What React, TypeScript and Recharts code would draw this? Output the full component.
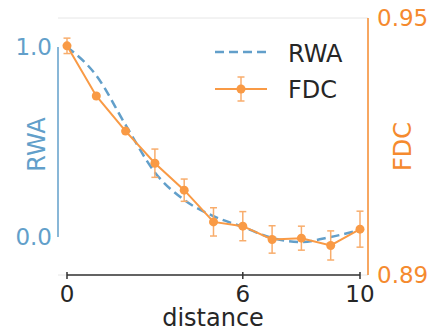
import React from "react";
import {
  CartesianGrid,
  ErrorBar,
  Legend,
  Line,
  LineChart,
  ReferenceLine,
  XAxis,
  YAxis,
} from "recharts";

const distances = [0, 1, 2, 3, 4, 5, 6, 7, 8, 9, 10];
const rwa = [1.0, 0.85, 0.59, 0.34, 0.195, 0.11, 0.053, -0.005, -0.026, 0.0, 0.037];
const fdc = [0.9435, 0.9318, 0.9236, 0.9161, 0.9098, 0.9024, 0.9014, 0.8983, 0.8986, 0.8969, 0.9007];
const fdcErr = [0.0018, 0.0005, 0.0005, 0.0033, 0.0026, 0.0033, 0.0034, 0.0032, 0.0028, 0.0034, 0.0042];
const xTicks = [0, 6, 10];
const rwaTicks = [0, 1];
const fdcTicks = [0.89, 0.95];

const data = distances.map((d, i) => ({ d, rwa: rwa[i], fdc: fdc[i], fdcErr: fdcErr[i] }));

const FONT = "DejaVu Sans";
const BLUE = "#629fca";
const ORANGE = "#f58a2e";
const ORANGE_LINE = "#f99a45";
const ORANGE_ERR = "#f8ad6c";
const DARK = "#262626";

const XTick = (props: any) => {
  const { x, y, payload } = props;
  return (
    <g>
      <line x1={x} x2={x} y1={y - 3} y2={y + 4} stroke="#333" strokeWidth={1.5} />
      <text x={x} y={y + 27} textAnchor="middle" fontSize={23} fill={DARK} fontFamily={FONT}>
        {payload.value}
      </text>
    </g>
  );
};

const LegendBox = () => (
  <svg width={150} height={85} style={{ display: "block" }}>
    <line x1={5} x2={57} y1={22} y2={22} stroke={BLUE} strokeWidth={2.5} strokeDasharray="9 5" />
    <text x={78} y={32} fontSize={24} fill={DARK} fontFamily={FONT}>RWA</text>
    <line x1={5} x2={57} y1={59} y2={59} stroke={ORANGE_LINE} strokeWidth={2} />
    <line x1={31} x2={31} y1={47} y2={71} stroke={ORANGE_ERR} strokeWidth={1.5} />
    <line x1={27.5} x2={34.5} y1={47} y2={47} stroke={ORANGE_ERR} strokeWidth={1.5} />
    <line x1={27.5} x2={34.5} y1={71} y2={71} stroke={ORANGE_ERR} strokeWidth={1.5} />
    <circle cx={31} cy={59} r={4.5} fill={ORANGE_LINE} />
    <text x={78} y={68} fontSize={24} fill={DARK} fontFamily={FONT}>FDC</text>
  </svg>
);

export default function App() {
  return (
    <div style={{ position: "absolute", left: 0, top: 0, background: "#fff" }}>
      <LineChart
        width={431}
        height={328}
        data={data}
        margin={{ top: 18, right: 0, bottom: 0, left: 0 }}
        style={{ fontFamily: FONT }}
      >
        <CartesianGrid horizontalPoints={[18, 275]} vertical={false} stroke="#e6e6e6" />
        <XAxis
          dataKey="d"
          type="number"
          domain={[-0.307, 10.273]}
          allowDataOverflow
          ticks={xTicks}
          axisLine={false}
          tickLine={false}
          tickSize={0}
          tickMargin={0}
          tick={<XTick />}
          height={53}
          label={{ value: "distance", position: "insideBottom", offset: 2, fontSize: 24, fill: DARK }}
        />
        <YAxis
          yAxisId="left"
          orientation="left"
          width={58}
          domain={[-0.2, 1.1526]}
          allowDataOverflow
          ticks={rwaTicks}
          tickFormatter={(v: number) => v.toFixed(1)}
          axisLine={false}
          tickLine={false}
          tickSize={0}
          tickMargin={6}
          tick={{ fontSize: 23, fill: BLUE }}
          label={{ value: "RWA", angle: -90, position: "center", dx: 7, dy: -2, fontSize: 24, fill: BLUE }}
        />
        <YAxis
          yAxisId="right"
          orientation="right"
          width={63}
          domain={[0.89, 0.95]}
          allowDataOverflow
          ticks={fdcTicks}
          tickFormatter={(v: number) => v.toFixed(2)}
          axisLine={{ stroke: ORANGE, strokeWidth: 1.5 }}
          tickLine={false}
          tickSize={0}
          tickMargin={9}
          tick={{ fontSize: 23, fill: ORANGE }}
          label={{ value: "FDC", angle: -90, position: "center", dx: 3, dy: 0, fontSize: 24, fill: ORANGE }}
        />
        <ReferenceLine
          yAxisId="left"
          ifOverflow="visible"
          segment={[{ x: -0.307, y: 0 }, { x: -0.307, y: 1 }]}
          stroke={BLUE}
          strokeWidth={1.5}
        />
        <ReferenceLine
          yAxisId="left"
          ifOverflow="visible"
          segment={[{ x: 0, y: -0.2 }, { x: 10, y: -0.2 }]}
          stroke="#333"
          strokeWidth={1.5}
        />
        <Legend
          layout="vertical"
          align="center"
          verticalAlign="middle"
          content={<LegendBox />}
          wrapperStyle={{ position: "absolute", left: 210, top: 30, width: 150, height: 85 }}
        />
        <Line
          yAxisId="left"
          type="monotone"
          dataKey="rwa"
          stroke={BLUE}
          strokeWidth={2.5}
          strokeDasharray="9 5"
          dot={false}
          activeDot={false}
          isAnimationActive={false}
        />
        <Line
          yAxisId="right"
          type="linear"
          dataKey="fdc"
          stroke={ORANGE_LINE}
          strokeWidth={2}
          dot={{ r: 4.5, fill: ORANGE_LINE, stroke: "none" }}
          activeDot={false}
          isAnimationActive={false}
        >
          <ErrorBar dataKey="fdcErr" direction="y" width={3.5} stroke={ORANGE_ERR} strokeWidth={1.5} />
        </Line>
      </LineChart>
    </div>
  );
}
